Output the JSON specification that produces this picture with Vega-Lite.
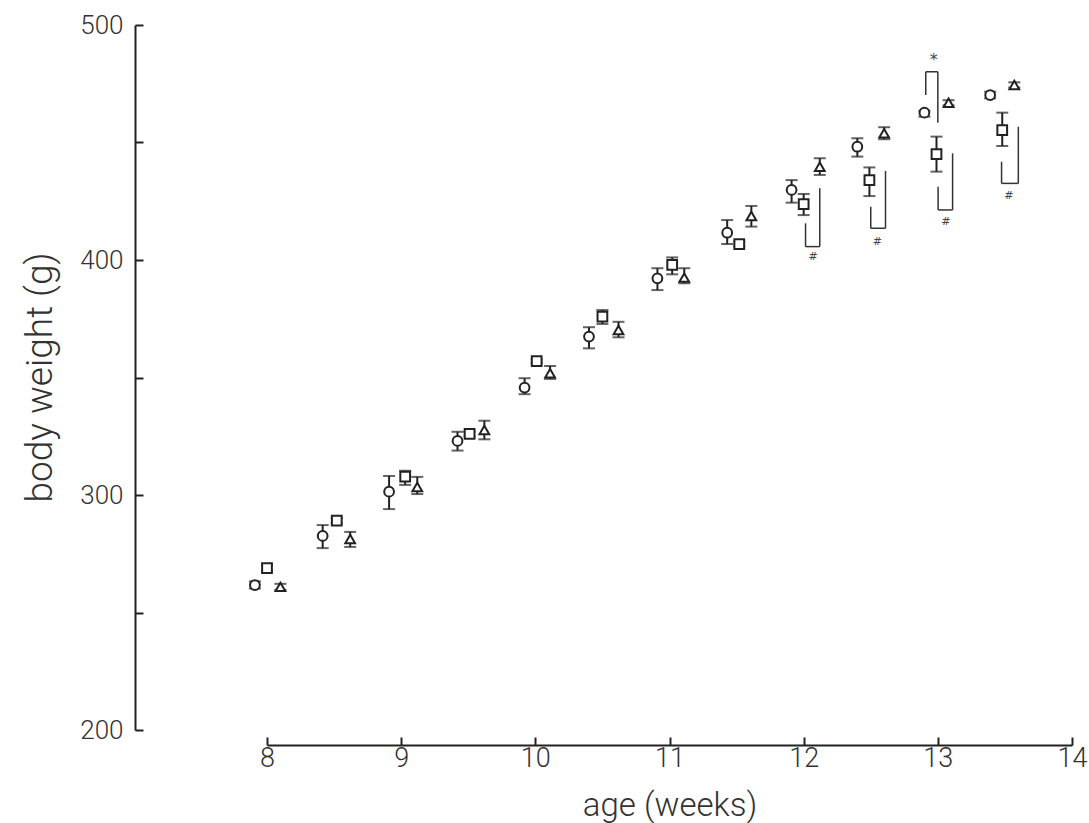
{
  "$schema": "https://vega.github.io/schema/vega-lite/v6.json",
  "width": 805,
  "height": 705,
  "autosize": "none",
  "padding": {"left": 267, "top": 25, "right": 17, "bottom": 93},
  "background": "white",
  "config": {
    "view": {"stroke": null},
    "axis": {
      "domainColor": "#222",
      "domainWidth": 2,
      "tickColor": "#222",
      "tickWidth": 2,
      "grid": false,
      "labelFont": "Roboto",
      "labelFontWeight": 300,
      "labelColor": "#333",
      "labelFlush": false,
      "titleFont": "Roboto",
      "titleFontWeight": 300,
      "titleColor": "#333"
    }
  },
  "datasets": {
    "groups": [
      {"group": "circle", "x": 7.91, "m": 261.7, "lo": 260.2, "hi": 263.2},
      {"group": "circle", "x": 8.415, "m": 282.6, "lo": 277.4, "hi": 287.2},
      {"group": "circle", "x": 8.91, "m": 301.4, "lo": 294.0, "hi": 308.1},
      {"group": "circle", "x": 9.42, "m": 323.0, "lo": 318.9, "hi": 326.9},
      {"group": "circle", "x": 9.92, "m": 345.7, "lo": 342.9, "hi": 349.7},
      {"group": "circle", "x": 10.40, "m": 367.4, "lo": 362.4, "hi": 371.4},
      {"group": "circle", "x": 10.91, "m": 392.2, "lo": 387.2, "hi": 396.5},
      {"group": "circle", "x": 11.43, "m": 411.6, "lo": 406.8, "hi": 417.0},
      {"group": "circle", "x": 11.91, "m": 429.8, "lo": 424.4, "hi": 434.0},
      {"group": "circle", "x": 12.40, "m": 448.2, "lo": 444.0, "hi": 451.8},
      {"group": "circle", "x": 12.90, "m": 462.7, "lo": 461.0, "hi": 463.5},
      {"group": "circle", "x": 13.39, "m": 470.2, "lo": 468.8, "hi": 471.6},
      {"group": "square", "x": 8.0, "m": 268.9, "lo": 267.5, "hi": 270.3},
      {"group": "square", "x": 8.52, "m": 289.1, "lo": 288.0, "hi": 290.2},
      {"group": "square", "x": 9.03, "m": 307.8, "lo": 304.3, "hi": 310.3},
      {"group": "square", "x": 9.51, "m": 326.0, "lo": 325.0, "hi": 327.0},
      {"group": "square", "x": 10.01, "m": 357.0, "lo": 356.3, "hi": 357.7},
      {"group": "square", "x": 10.50, "m": 375.9, "lo": 372.8, "hi": 378.7},
      {"group": "square", "x": 11.02, "m": 397.9, "lo": 393.9, "hi": 401.1},
      {"group": "square", "x": 11.52, "m": 406.8, "lo": 405.8, "hi": 407.8},
      {"group": "square", "x": 12.00, "m": 423.8, "lo": 419.1, "hi": 428.1},
      {"group": "square", "x": 12.49, "m": 434.0, "lo": 427.2, "hi": 439.4},
      {"group": "square", "x": 12.99, "m": 445.1, "lo": 437.6, "hi": 452.5},
      {"group": "square", "x": 13.48, "m": 455.3, "lo": 448.5, "hi": 462.7},
      {"group": "triangle", "x": 8.10, "m": 260.9, "lo": 259.6, "hi": 262.2},
      {"group": "triangle", "x": 8.62, "m": 281.3, "lo": 277.9, "hi": 284.3},
      {"group": "triangle", "x": 9.12, "m": 303.4, "lo": 300.4, "hi": 307.7},
      {"group": "triangle", "x": 9.62, "m": 327.7, "lo": 323.7, "hi": 331.6},
      {"group": "triangle", "x": 10.11, "m": 351.8, "lo": 349.4, "hi": 354.9},
      {"group": "triangle", "x": 10.62, "m": 370.2, "lo": 367.1, "hi": 373.7},
      {"group": "triangle", "x": 11.11, "m": 392.5, "lo": 390.1, "hi": 396.5},
      {"group": "triangle", "x": 11.61, "m": 418.7, "lo": 414.2, "hi": 423.0},
      {"group": "triangle", "x": 12.12, "m": 439.7, "lo": 436.2, "hi": 443.3},
      {"group": "triangle", "x": 12.60, "m": 453.9, "lo": 451.4, "hi": 456.5},
      {"group": "triangle", "x": 13.08, "m": 466.9, "lo": 465.8, "hi": 468.0},
      {"group": "triangle", "x": 13.57, "m": 474.5, "lo": 473.4, "hi": 475.6}
    ],
    "brackets": [
      {"x": 12.014, "x2": 12.014, "y": 415.6, "y2": 405.7},
      {"x": 12.014, "x2": 12.12, "y": 405.7, "y2": 405.7},
      {"x": 12.12, "x2": 12.12, "y": 405.7, "y2": 430.5},
      {"x": 12.50, "x2": 12.50, "y": 422.7, "y2": 413.5},
      {"x": 12.50, "x2": 12.61, "y": 413.5, "y2": 413.5},
      {"x": 12.61, "x2": 12.61, "y": 413.5, "y2": 437.9},
      {"x": 13.002, "x2": 13.002, "y": 431.2, "y2": 421.3},
      {"x": 13.002, "x2": 13.11, "y": 421.3, "y2": 421.3},
      {"x": 13.11, "x2": 13.11, "y": 421.3, "y2": 445.4},
      {"x": 12.91, "x2": 12.91, "y": 470.2, "y2": 480.1},
      {"x": 12.91, "x2": 13.0, "y": 480.1, "y2": 480.1},
      {"x": 13.0, "x2": 13.0, "y": 480.1, "y2": 458.4},
      {"x": 13.475, "x2": 13.475, "y": 441.8, "y2": 432.6},
      {"x": 13.475, "x2": 13.60, "y": 432.6, "y2": 432.6},
      {"x": 13.60, "x2": 13.60, "y": 432.6, "y2": 456.7}
    ],
    "marks": [
      {"x": 12.07, "y": 401.3, "t": "#", "s": 11},
      {"x": 12.55, "y": 407.8, "t": "#", "s": 11},
      {"x": 13.06, "y": 416.3, "t": "#", "s": 11},
      {"x": 13.53, "y": 427.2, "t": "#", "s": 11},
      {"x": 12.97, "y": 485.1, "t": "*", "s": 16}
    ]
  },
  "layer": [
    {
      "data": {"name": "groups"},
      "mark": {"type": "errorbar", "ticks": {"size": 12, "thickness": 2, "color": "#222"}, "rule": {"strokeWidth": 2, "color": "#222"}},
      "encoding": {
        "x": {"field": "x", "type": "quantitative", "scale": {"domain": [8, 14], "nice": false, "zero": false},
          "axis": {"orient": "bottom", "offset": 15, "values": [8, 8.5, 9, 9.5, 10, 10.5, 11, 11.5, 12, 12.5, 13, 13.5, 14],
            "format": "d", "labelExpr": "datum.value % 1 === 0 ? datum.label : ''",
            "tickSize": {"condition": {"test": "datum.value % 1 === 0", "value": -8}, "value": -5},
            "labelPadding": 8, "labelFontSize": 27,
            "title": "age (weeks)", "titleFontSize": 33, "titleBaseline": "alphabetic", "titleY": 70}},
        "y": {"field": "lo", "type": "quantitative", "scale": {"domain": [200, 500], "nice": false, "zero": false},
          "axis": {"orient": "left", "offset": 132, "values": [200, 250, 300, 350, 400, 450, 500],
            "format": "d", "labelExpr": "datum.value % 100 === 0 ? datum.label : ''", "tickSize": -8, "labelPadding": 20, "labelFontSize": 26,
            "title": "body weight (g)", "titleFontSize": 37, "titleX": -95, "titleY": 352, "titleAngle": -90, "titleAlign": "center", "titleBaseline": "middle"}},
        "y2": {"field": "hi"}
      }
    },
    {
      "data": {"name": "groups"},
      "mark": {"type": "point", "filled": true, "fill": "white", "stroke": "#222", "strokeWidth": 2, "size": 95, "opacity": 1},
      "encoding": {
        "x": {"field": "x", "type": "quantitative"},
        "y": {"field": "m", "type": "quantitative"},
        "shape": {"field": "group", "type": "nominal", "scale": {"domain": ["circle", "square", "triangle"], "range": ["circle", "square", "triangle-up"]}, "legend": null}
      }
    },
    {
      "data": {"name": "brackets"},
      "mark": {"type": "rule", "color": "#333", "strokeWidth": 1.5},
      "encoding": {
        "x": {"field": "x", "type": "quantitative"},
        "x2": {"field": "x2"},
        "y": {"field": "y", "type": "quantitative"},
        "y2": {"field": "y2"}
      }
    },
    {
      "data": {"name": "marks"},
      "mark": {"type": "text", "color": "#444", "font": "DejaVu Sans"},
      "encoding": {
        "x": {"field": "x", "type": "quantitative"},
        "y": {"field": "y", "type": "quantitative"},
        "text": {"field": "t"},
        "size": {"field": "s", "type": "quantitative", "scale": null}
      }
    }
  ]
}
